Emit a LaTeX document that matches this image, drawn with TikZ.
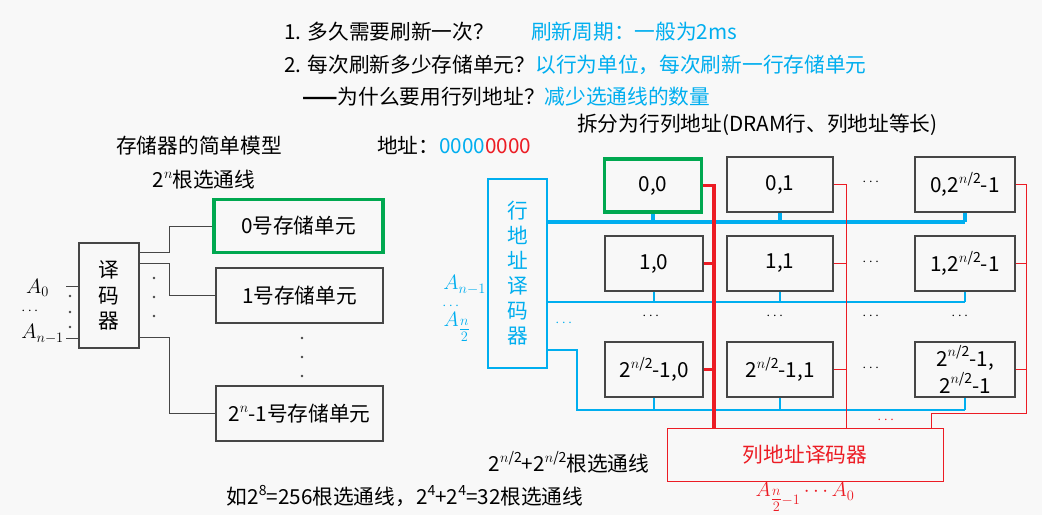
\documentclass[tikz,border=0pt]{standalone}
\usepackage{amsmath}
\usepackage{fontspec}
\setmainfont{Noto Sans CJK SC}
\definecolor{tblue}{RGB}{0,174,239}
\definecolor{tred}{RGB}{236,28,36}
\definecolor{tgreen}{RGB}{0,168,80}
\definecolor{boxgray}{RGB}{70,70,70}
\definecolor{bg}{RGB}{248,248,248}
\newcommand{\fs}{\fontsize{20.7}{25}\selectfont}
\newcommand{\fd}{\fontsize{14}{16}\selectfont}
\newcommand{\fm}{\fontsize{21.5}{25}\selectfont}
\newcommand{\ssup}[1]{\raisebox{0.45em}{\fontsize{14}{14}\selectfont #1}}
\begin{document}
\begin{tikzpicture}[x=1pt,y=-1pt,
  every node/.style={inner sep=0pt, font=\fs},
  cell/.style={draw=boxgray, line width=1.2pt, minimum height=55pt, align=center},
  greenbox/.style={draw=tgreen, line width=3.5pt, minimum height=53pt},
  wire/.style={draw=boxgray, line width=1pt},
  bluethick/.style={draw=tblue, line width=3.5pt},
  bluethin/.style={draw=tblue, line width=1.2pt},
  redthick/.style={draw=tred, line width=3.5pt},
  redthin/.style={draw=tred, line width=1pt},
  dotsn/.style={font=\fd},
  mathlbl/.style={font=\fm}]
\fill[bg] (0,0) rectangle (1042,515);
\useasboundingbox (0,0) rectangle (1042,515);

% ---------- top text ----------
\node[anchor=west] (q1) at (284,32) {1. 多久需要刷新一次？};
\node[anchor=west, text=tblue] (a1) at (531,32) {刷新周期：一般为2ms};
\node[anchor=west] (q2) at (284,65) {2. 每次刷新多少存储单元？\textcolor{tblue}{以行为单位，每次刷新一行存储单元}};
\node[anchor=west] (q3) at (302,97) {{\bfseries ——}为什么要用行列地址？\textcolor{tblue}{减少选通线的数量}};
\node[anchor=west] (split) at (577,125) {拆分为行列地址(DRAM行、列地址等长)};
\node[anchor=west] (addr) at (377,145) {地址：\textcolor{tblue}{0000}\textcolor{tred}{0000}};

% ---------- left: simple model ----------
\node (t1) at (199,146) {存储器的简单模型};
\node (t2) at (204,180) {2\ssup{$n$}根选通线};
\node[draw=boxgray, line width=1.2pt, minimum width=60pt, minimum height=105pt, align=center,
      font=\fontsize{20.7}{25.5}\selectfont] (dec) at (109,295.5) {译\\码\\器};
\node[greenbox, minimum width=169pt] (m0) at (298.5,226) {0号存储单元};
\node[cell, minimum width=167pt] (m1) at (299.5,295.5) {1号存储单元};
\node[cell, minimum width=167pt] (mn) at (299.5,413.5) {2\ssup{$n$}-1号存储单元};

\draw[wire] ([yshift=-10pt]dec.north east) -- ++(30,0) |- (m0.west);
\draw[wire] ([yshift=-21pt]dec.north east) -- ++(30,0) |- (m1.west);
\draw[wire] ([yshift=11pt]dec.south east) -- ++(30,0) |- (mn.west);

\coordinate (in0) at (66,286);
\coordinate (in1) at (66,338);
\draw[wire] (in0) -- (in0 -| dec.west);
\draw[wire] (in1) -- (in1 -| dec.west);
\node[mathlbl, anchor=east] (ia0) at (49,288) {$A_0$};
\node[dotsn] (iad) at (31,311) {$\cdots$};
\node[mathlbl, anchor=east] (ian) at (64,334) {$A_{n-1}$};

\foreach \yy in {296,312,327} \fill[boxgray] (70,\yy) circle (1.3);
\foreach \yy in {278,297,316} \fill[boxgray] (154,\yy) circle (1.3);
\foreach \yy in {338,357,376} \fill[boxgray] (302,\yy) circle (1.3);

% ---------- right: row/column organisation ----------
\node[draw=tblue, line width=1.2pt, minimum width=59pt, minimum height=189pt, align=center,
      text=tblue, font=\fontsize{20.7}{25}\selectfont] (rdec) at (517.5,273.5) {行\\地\\址\\译\\码\\器};
\node[mathlbl, text=tblue, anchor=east] (ran) at (486,285) {$A_{n-1}$};
\node[dotsn, text=tblue] (rad) at (452,306) {$\cdots$};
\node[mathlbl, text=tblue] (ra2) at (457,327) {$A_{\genfrac{}{}{0.5pt}{1}{n}{2}}$};

\node[greenbox, minimum width=97pt] (c00) at (653,185.5) {0,0};
\node[cell, minimum width=106pt] (c01) at (780,184.5) {0,1};
\node[cell, minimum width=100pt] (c03) at (965,184.5) {0,2\ssup{$n$/2}-1};
\node[cell, minimum width=98pt] (c10) at (654,263.5) {1,0};
\node[cell, minimum width=106pt] (c11) at (780,263.5) {1,1};
\node[cell, minimum width=100pt] (c13) at (965,263.5) {1,2\ssup{$n$/2}-1};
\node[cell, minimum width=98pt] (c20) at (654,369.5) {2\ssup{$n$/2}-1,0};
\node[cell, minimum width=106pt] (c21) at (780,369.5) {2\ssup{$n$/2}-1,1};
\node[cell, minimum width=100pt, font=\fontsize{20.7}{27}\selectfont] (c23) at (965,369.5) {2\ssup{$n$/2}-1,\\2\ssup{$n$/2}-1};

\node[draw=tred, line width=1pt, minimum width=276pt, minimum height=53pt, text=tred] (cdec) at (805,454.5) {列地址译码器};

% blue row select lines
\coordinate (b1) at (0,222);
\coordinate (b2) at (0,302);
\coordinate (b3) at (0,410);
\coordinate (b3turn) at (577,350);
\draw[bluethick] (rdec.east |- b1) -- (c03.south |- b1);
\foreach \c in {c00,c01,c03} \draw[bluethick] (\c.south) -- (\c.south |- b1);
\draw[bluethin] (rdec.east |- b2) -- (c13.south |- b2);
\foreach \c in {c10,c11,c13} \draw[bluethin] (\c.south) -- (\c.south |- b2);
\draw[bluethin] (rdec.east |- b3turn) -- (b3turn) |- (c23.south |- b3);
\foreach \c in {c20,c21,c23} \draw[bluethin] (\c.south) -- (\c.south |- b3);

% red column select lines
\coordinate (rx1) at (714,428);
\coordinate (rx2) at (846,428);
\coordinate (rx3) at (1026,413);
\coordinate (rx3b) at (931,428);
\draw[redthick] (c00.east) -| (cdec.north -| rx1);
\foreach \c in {c10,c20} \draw[redthick] (\c.east) -- (\c.east -| rx1);
\draw[redthin] (c01.east) -| (cdec.north -| rx2);
\foreach \c in {c11,c21} \draw[redthin] (\c.east) -- (\c.east -| rx2);
\draw[redthin] (c03.east) -| (rx3) -| (cdec.north -| rx3b);
\foreach \c in {c13,c23} \draw[redthin] (\c.east) -- (\c.east -| rx3);

% ellipses in the grid
\node[dotsn] (e1) at (872,182) {$\cdots$};
\node[dotsn] (e2) at (872,262) {$\cdots$};
\node[dotsn] (e3) at (872,368) {$\cdots$};
\node[dotsn] (e4) at (652,316) {$\cdots$};
\node[dotsn] (e5) at (776,316) {$\cdots$};
\node[dotsn] (e6) at (872,316) {$\cdots$};
\node[dotsn] (e7) at (961,316) {$\cdots$};
\node[dotsn, text=tblue] (e8) at (565,323) {$\cdots$};
\node[dotsn, text=tred] (e9) at (887,420) {$\cdots$};

% bottom texts
\node (sel2) at (569,462) {2\ssup{$n$/2}+2\ssup{$n$/2}根选通线};
\node (ex) at (405,496) {如2\ssup{8}=256根选通线，2\ssup{4}+2\ssup{4}=32根选通线};
\node[mathlbl, text=tred] (cad) at (805,497) {$A_{\genfrac{}{}{0.5pt}{1}{n}{2}-1}\cdots A_0$};
\end{tikzpicture}
\end{document}
